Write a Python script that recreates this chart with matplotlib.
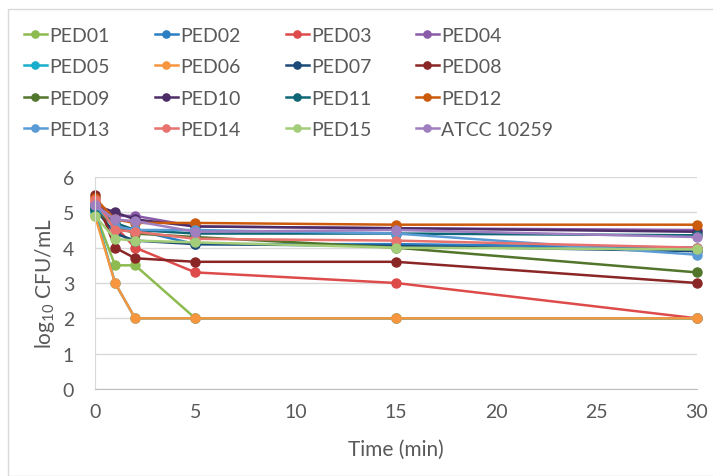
import matplotlib.pyplot as plt
from matplotlib.patches import Rectangle

time_min = [0, 1, 2, 5, 15, 30]

ped01 = [5.0, 3.5, 3.5, 2.0, 2.0, 2.0]
ped02 = [5.1, 4.6, 4.5, 4.1, 4.1, 4.0]
ped03 = [5.3, 4.6, 4.0, 3.3, 3.0, 2.0]
ped04 = [5.2, 4.9, 4.9, 4.6, 4.55, 4.5]
ped05 = [5.0, 3.0, 2.0, 2.0, 2.0, 2.0]
ped06 = [4.9, 3.0, 2.0, 2.0, 2.0, 2.0]
ped07 = [5.1, 4.4, 4.2, 4.1, 4.05, 3.9]
ped08 = [5.5, 4.0, 3.7, 3.6, 3.6, 3.0]
ped09 = [5.1, 4.6, 4.4, 4.3, 4.0, 3.3]
ped10 = [5.2, 5.0, 4.8, 4.6, 4.55, 4.45]
ped11 = [5.1, 4.7, 4.5, 4.4, 4.4, 4.35]
ped12 = [5.4, 4.8, 4.7, 4.7, 4.65, 4.65]
ped13 = [5.2, 4.6, 4.5, 4.5, 4.4, 3.8]
ped14 = [5.35, 4.5, 4.45, 4.25, 4.2, 4.0]
ped15 = [4.9, 4.25, 4.2, 4.15, 4.0, 3.95]
atcc = [5.2, 4.8, 4.75, 4.45, 4.5, 4.3]

names = ["PED01", "PED02", "PED03", "PED04", "PED05", "PED06", "PED07", "PED08",
         "PED09", "PED10", "PED11", "PED12", "PED13", "PED14", "PED15", "ATCC 10259"]
series = [ped01, ped02, ped03, ped04, ped05, ped06, ped07, ped08,
          ped09, ped10, ped11, ped12, ped13, ped14, ped15, atcc]
colors = ["#8DBB4F", "#2B7FC2", "#DE4B4B", "#8A5BA8", "#19AECB", "#F7963F",
          "#1B4A78", "#8B2626", "#51752A", "#4D2D68", "#0E6676", "#CC5A0C",
          "#5A9BD5", "#E8726E", "#A3CD78", "#A07FC0"]

plt.rcParams['font.family'] = ['Lato', 'DejaVu Sans']
plt.rcParams['mathtext.fontset'] = 'custom'
plt.rcParams['mathtext.rm'] = 'Lato'
grey = "#595959"

fig = plt.figure(figsize=(7.13, 4.77), dpi=100)
fig.patches.append(Rectangle((8 / 713, 0), 1.0, 1 - 10 / 477, transform=fig.transFigure,
                             fill=False, edgecolor="#D9D9D9", linewidth=1))

ax = fig.add_axes([95 / 713, 87 / 477, 602 / 713, 212 / 477])
for name, vals, c in zip(names, series, colors):
    ax.plot(time_min, vals, color=c, marker="o", markersize=6.5, linewidth=1.8,
            label=name, clip_on=False)

ax.set_xlim(0, 30)
ax.set_ylim(0, 6)
ax.set_xticks(range(0, 31, 5))
ax.set_yticks(range(0, 7))
ax.yaxis.grid(True, color="#D9D9D9", linewidth=1)
ax.set_axisbelow(True)
for s in ["top", "right"]:
    ax.spines[s].set_visible(False)
ax.spines["left"].set_color("#D9D9D9")
ax.spines["bottom"].set_color("#BFBFBF")
ax.tick_params(length=0, labelsize=14, colors=grey)
ax.tick_params(axis="y", pad=15)
ax.tick_params(axis="x", pad=10)
ax.set_xlabel("Time (min)", fontsize=15, color=grey, labelpad=14)
ax.set_ylabel(r"log$_{\mathrm{10}}$ CFU/mL", fontsize=15, color=grey, labelpad=4)

# legend: 4 columns, filled row by row, one legend per column
handles, labels = ax.get_legend_handles_labels()
col_x = [6, 137, 268, 398]
for col in range(4):
    idx = [row * 4 + col for row in range(4)]
    leg = fig.legend([handles[i] for i in idx], [labels[i] for i in idx], ncol=1,
                     loc="upper left", bbox_to_anchor=(col_x[col] / 713, 1 - 10 / 477),
                     frameon=False, fontsize=14, labelcolor=grey, handlelength=1.2,
                     handletextpad=0.1, labelspacing=0.75, markerscale=0.8)

fig.savefig("out.png", dpi=100)
